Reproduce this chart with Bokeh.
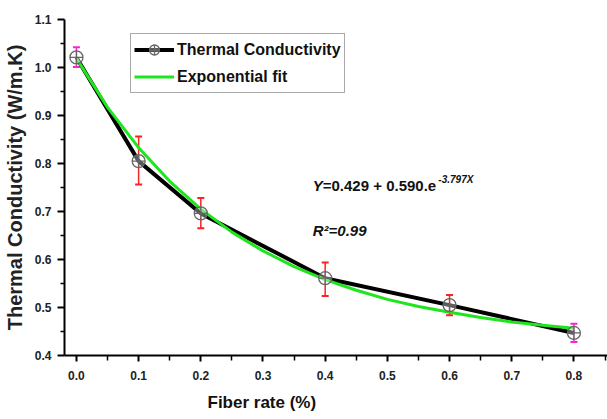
from bokeh.plotting import figure
from bokeh.models import (ColumnDataSource, Whisker, TeeHead, Label, Title, FixedTicker,
                          PrintfTickFormatter, Legend, LegendItem, Range1d)
from bokeh.embed import file_html
from bokeh.resources import INLINE

# ---- data ----
fiber_rate = [0.0, 0.1, 0.2, 0.4, 0.6, 0.8]
conductivity = [1.021, 0.805, 0.696, 0.561, 0.505, 0.447]
err_lower = [1.001, 0.756, 0.665, 0.524, 0.484, 0.428]
err_upper = [1.042, 0.856, 0.728, 0.594, 0.526, 0.466]

fit_x = [0.0, 0.05, 0.1, 0.15, 0.2, 0.25, 0.3, 0.35, 0.4, 0.45, 0.5, 0.55, 0.6, 0.65, 0.7, 0.75, 0.8]
fit_y = [1.019, 0.917, 0.833, 0.763, 0.705, 0.657, 0.618, 0.585, 0.558, 0.536, 0.517, 0.502,
         0.490, 0.479, 0.470, 0.463, 0.457]

x_ticks = [0.0, 0.1, 0.2, 0.3, 0.4, 0.5, 0.6, 0.7, 0.8]
x_minor = [0.05, 0.15, 0.25, 0.35, 0.45, 0.55, 0.65, 0.75, 0.85]
y_ticks = [0.4, 0.5, 0.6, 0.7, 0.8, 0.9, 1.0, 1.1]
y_minor = [0.45, 0.55, 0.65, 0.75, 0.85, 0.95, 1.05]

FONT = "Liberation Sans"

p = figure(width=607, height=419, x_range=Range1d(-0.0192, 0.854), y_range=Range1d(0.4, 1.1),
           output_backend="svg", toolbar_location=None,
           min_border_left=61, min_border_right=0, min_border_top=19, min_border_bottom=64)
p.grid.visible = False
p.outline_line_color = None
p.background_fill_color = "white"
p.border_fill_color = "white"

for ax in (p.xaxis[0], p.yaxis[0]):
    ax.axis_line_width = 2
    ax.axis_line_color = "black"
    ax.major_tick_line_width = 2
    ax.minor_tick_line_width = 1.5
    ax.major_tick_in = 0
    ax.minor_tick_in = 0
    ax.major_label_text_font = FONT
    ax.major_label_text_font_style = "bold"
    ax.major_label_text_font_size = "12px"
    ax.major_label_text_color = "#222222"
    ax.formatter = PrintfTickFormatter(format="%.1f")

p.xaxis.ticker = FixedTicker(ticks=x_ticks, minor_ticks=x_minor)
p.yaxis.ticker = FixedTicker(ticks=y_ticks, minor_ticks=y_minor)
p.xaxis.major_tick_out = 6
p.xaxis.minor_tick_out = 5
p.xaxis.major_label_standoff = 9
p.yaxis.major_tick_out = 7
p.yaxis.minor_tick_out = 4
p.yaxis.major_label_standoff = 6

p.yaxis.axis_label = "Thermal Conductivity (W/m.K)"
p.yaxis.axis_label_text_font = FONT
p.yaxis.axis_label_text_font_style = "bold"
p.yaxis.axis_label_text_font_size = "20px"
p.yaxis.axis_label_text_color = "#222222"
p.yaxis.axis_label_standoff = 6

# x-axis title, placed off-centre below the axis as in the reference
xt = Title(text="Fiber rate (%)", align="left", offset=143, text_font=FONT,
           text_font_style="bold", text_font_size="17px", text_color="#111111",
           standoff=16, text_line_height=1.0)
p.add_layout(xt, "below")

src = ColumnDataSource(dict(x=fiber_rate, y=conductivity, lower=err_lower, upper=err_upper))
n = len(fiber_rate)
ends = [0, n - 1]
mid = list(range(1, n - 1))
src_mid = ColumnDataSource(dict(x=[fiber_rate[i] for i in mid], lower=[err_lower[i] for i in mid],
                                upper=[err_upper[i] for i in mid]))
src_end = ColumnDataSource(dict(x=[fiber_rate[i] for i in ends], lower=[err_lower[i] for i in ends],
                                upper=[err_upper[i] for i in ends]))

line_r = p.line("x", "y", source=src, line_color="black", line_width=4)
fit_r = p.line(fit_x, fit_y, line_color="#1ee51e", line_width=3)

for s, col in ((src_mid, "#ff2020"), (src_end, "#ff20d0")):
    w = Whisker(base="x", lower="lower", upper="upper", source=s, line_color=col, line_width=1.5,
                upper_head=TeeHead(size=7, line_color=col, line_width=2),
                lower_head=TeeHead(size=7, line_color=col, line_width=2))
    p.add_layout(w)

marker_r = p.scatter("x", "y", source=src, marker="circle_cross", size=13, line_color="#666666",
                     line_width=1.3, fill_color="white", fill_alpha=0.35)

legend = Legend(items=[LegendItem(label="Thermal Conductivity", renderers=[line_r, marker_r]),
                       LegendItem(label="Exponential fit", renderers=[fit_r])],
                location=(66, 262), label_text_font=FONT, label_text_font_style="bold",
                label_text_font_size="16px", label_text_color="#111111",
                glyph_width=40, glyph_height=25, label_height=25, label_standoff=3,
                padding=3, spacing=2, margin=0, border_line_color="#555555", border_line_width=1,
                background_fill_color="white", background_fill_alpha=1)
p.add_layout(legend)

eq_font = dict(text_font=FONT, text_color="#111111", text_baseline="alphabetic")
p.add_layout(Label(x=0.38, y=0.755, text="Y", text_font_size="15px",
                   text_font_style="bold italic", **eq_font))
p.add_layout(Label(x=0.38, y=0.755, x_offset=10, text="=0.429 + 0.590.e", text_font_size="15px",
                   text_font_style="bold", **eq_font))
p.add_layout(Label(x=0.582, y=0.766, text="-3.797X", text_font_size="10px",
                   text_font_style="bold italic", **eq_font))
p.add_layout(Label(x=0.38, y=0.661, text="R\u00b2=0.99", text_font_size="15px",
                   text_font_style="bold italic", **eq_font))

open("out.html", "w").write(file_html(p, INLINE))
